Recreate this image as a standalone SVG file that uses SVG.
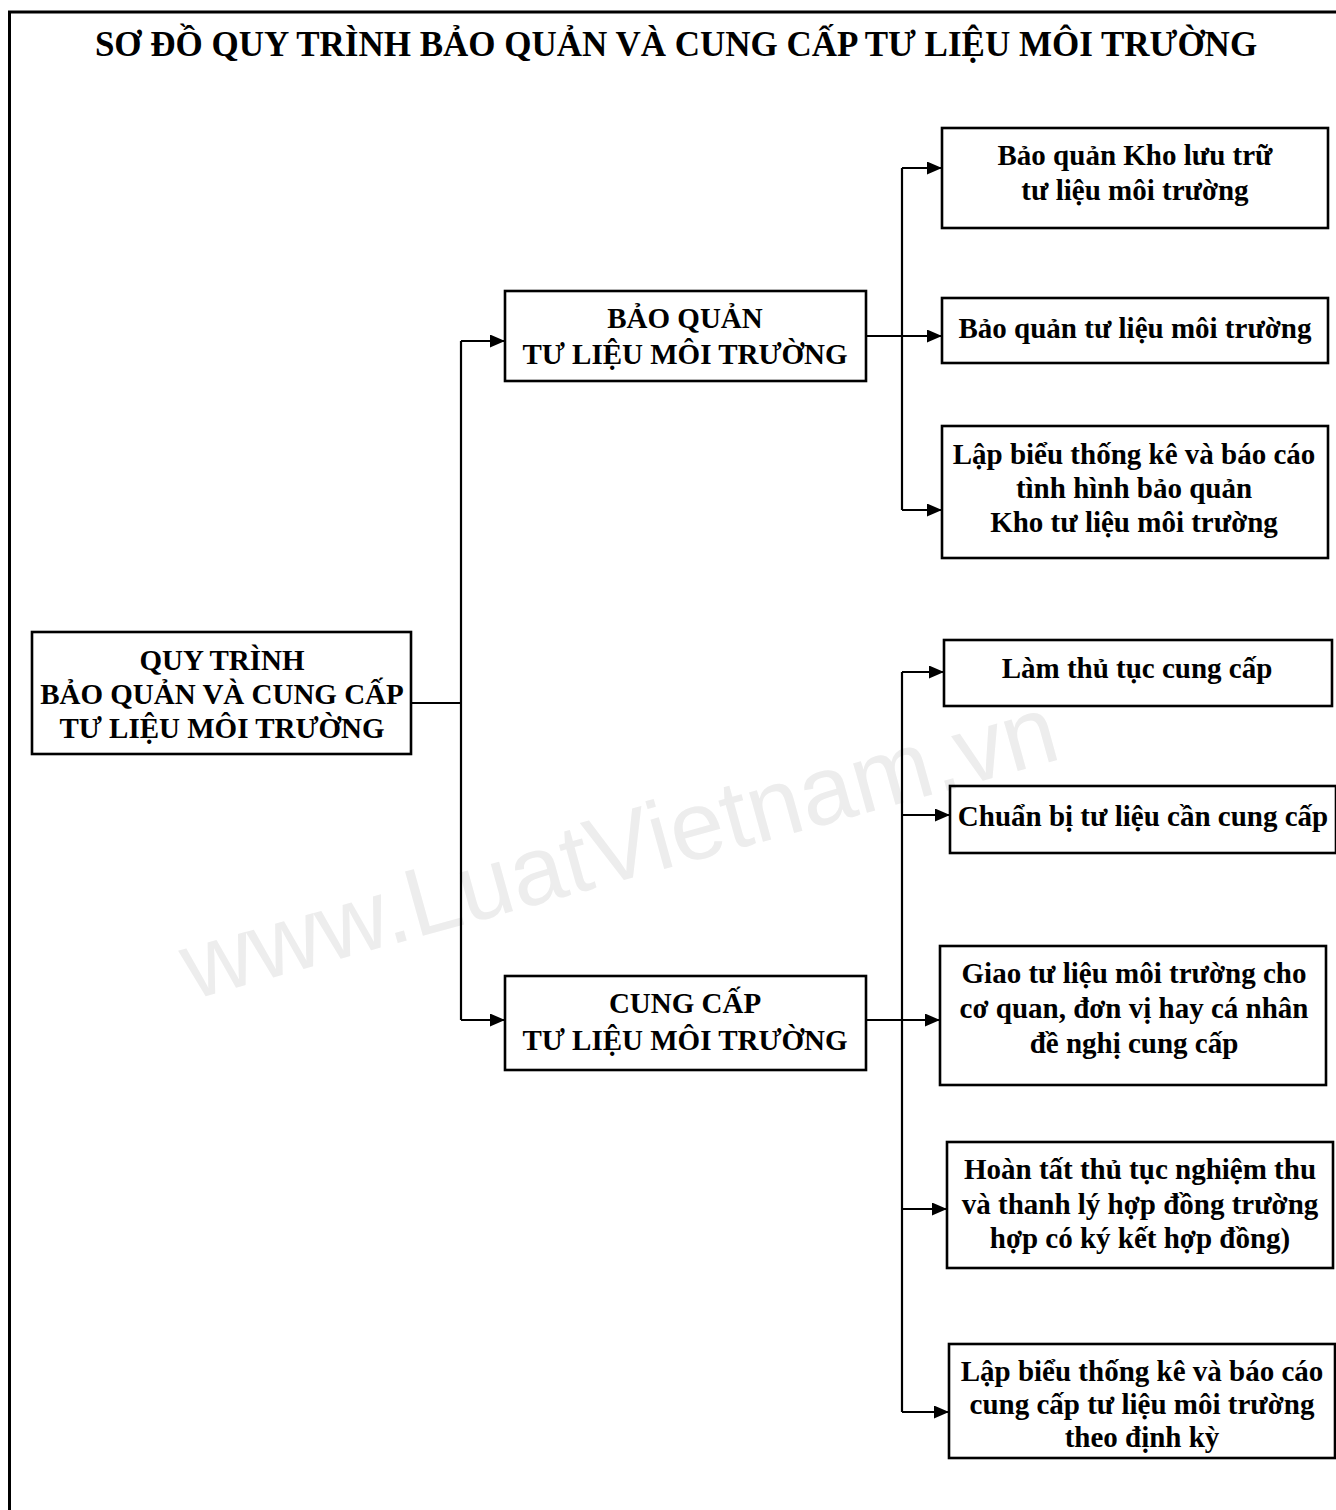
<svg xmlns="http://www.w3.org/2000/svg" width="1336" height="1510" viewBox="0 0 1336 1510">
<style>
.bx{fill:none;stroke:#000;stroke-width:2.6}
.t{font-family:"Liberation Serif","Times New Roman",serif;font-weight:bold;font-size:29px;fill:#000;text-anchor:middle}
.ttl{font-family:"Liberation Serif","Times New Roman",serif;font-weight:bold;font-size:35px;fill:#000;text-anchor:middle}
.c{fill:none;stroke:#000;stroke-width:2.2}
.wm{font-family:"Liberation Sans",Arial,sans-serif;font-size:97px;fill:#ededed}
</style>
<defs>
<marker id="ah" viewBox="0 0 15 13" refX="15" refY="6.5" markerWidth="15" markerHeight="13" markerUnits="userSpaceOnUse" orient="auto">
<path d="M0,0 L15,6.5 L0,13 z" fill="#000"/>
</marker>
</defs>
<rect x="0" y="0" width="1336" height="1510" fill="#fff"/>
<text class="wm" x="192" y="1000" transform="rotate(-15.5 192 1000)">www.LuatVietnam.vn</text>
<g id="frame" fill="none" stroke="#000" stroke-width="3">
<path d="M8,12 H1336"/>
<path d="M9.5,12 V1510"/>
</g>
<text class="ttl" x="676" y="56">SƠ ĐỒ QUY TRÌNH BẢO QUẢN VÀ CUNG CẤP TƯ LIỆU MÔI TRƯỜNG</text>
<g id="connectors">
<path class="c" d="M411,703 H461"/>
<path class="c" d="M461,341 V1020"/>
<path class="c" d="M461,341 H505" marker-end="url(#ah)"/>
<path class="c" d="M461,1020 H505" marker-end="url(#ah)"/>
<path class="c" d="M866,336 H942" marker-end="url(#ah)"/>
<path class="c" d="M902,168 V510"/>
<path class="c" d="M902,168 H942" marker-end="url(#ah)"/>
<path class="c" d="M902,510 H942" marker-end="url(#ah)"/>
<path class="c" d="M866,1020 H940" marker-end="url(#ah)"/>
<path class="c" d="M902,672 V1412"/>
<path class="c" d="M902,672 H944" marker-end="url(#ah)"/>
<path class="c" d="M902,815 H950" marker-end="url(#ah)"/>
<path class="c" d="M902,1209 H947" marker-end="url(#ah)"/>
<path class="c" d="M902,1412 H949" marker-end="url(#ah)"/>
</g>
<g id="root">
<rect class="bx" x="32" y="632" width="379" height="122"/>
<text class="t" x="222" y="670">QUY TRÌNH</text>
<text class="t" x="222" y="704">BẢO QUẢN VÀ CUNG CẤP</text>
<text class="t" x="222" y="738">TƯ LIỆU MÔI TRƯỜNG</text>
</g>
<g id="baoquan">
<rect class="bx" x="505" y="291" width="361" height="90"/>
<text class="t" x="685" y="328">BẢO QUẢN</text>
<text class="t" x="685" y="364">TƯ LIỆU MÔI TRƯỜNG</text>
</g>
<g id="cungcap">
<rect class="bx" x="505" y="976" width="361" height="94"/>
<text class="t" x="685" y="1013">CUNG CẤP</text>
<text class="t" x="685" y="1050">TƯ LIỆU MÔI TRƯỜNG</text>
</g>
<g id="r1">
<rect class="bx" x="942" y="128" width="386" height="100"/>
<text class="t" x="1135" y="165">Bảo quản Kho lưu trữ</text>
<text class="t" x="1135" y="200">tư liệu môi trường</text>
</g>
<g id="r2">
<rect class="bx" x="942" y="298" width="386" height="65"/>
<text class="t" x="1135" y="338">Bảo quản tư liệu môi trường</text>
</g>
<g id="r3">
<rect class="bx" x="942" y="426" width="386" height="132"/>
<text class="t" x="1134" y="464">Lập biểu thống kê và báo cáo</text>
<text class="t" x="1134" y="498">tình hình bảo quản</text>
<text class="t" x="1134" y="532">Kho tư liệu môi trường</text>
</g>
<g id="l1">
<rect class="bx" x="944" y="640" width="388" height="66"/>
<text class="t" x="1137" y="678">Làm thủ tục cung cấp</text>
</g>
<g id="l2">
<rect class="bx" x="950" y="786" width="386" height="67"/>
<text class="t" x="1143" y="826">Chuẩn bị tư liệu cần cung cấp</text>
</g>
<g id="l3">
<rect class="bx" x="940" y="946" width="386" height="139"/>
<text class="t" x="1134" y="983">Giao tư liệu môi trường cho</text>
<text class="t" x="1134" y="1018">cơ quan, đơn vị hay cá nhân</text>
<text class="t" x="1134" y="1053">đề nghị cung cấp</text>
</g>
<g id="l4">
<rect class="bx" x="947" y="1142" width="386" height="126"/>
<text class="t" x="1140" y="1179">Hoàn tất thủ tục nghiệm thu</text>
<text class="t" x="1140" y="1214">và thanh lý hợp đồng trường</text>
<text class="t" x="1140" y="1248">hợp có ký kết hợp đồng)</text>
</g>
<g id="l5">
<rect class="bx" x="949" y="1344" width="386" height="114"/>
<text class="t" x="1142" y="1381">Lập biểu thống kê và báo cáo</text>
<text class="t" x="1142" y="1414">cung cấp tư liệu môi trường</text>
<text class="t" x="1142" y="1447">theo định kỳ</text>
</g>
</svg>
